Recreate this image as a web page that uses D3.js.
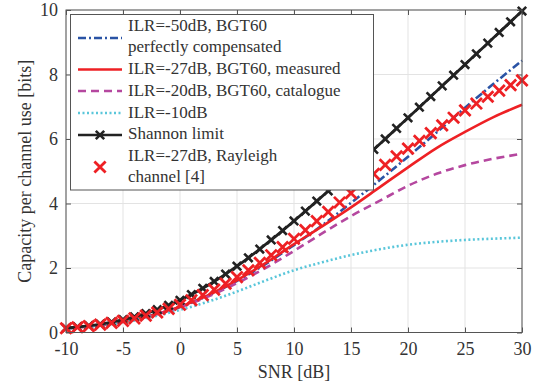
<!DOCTYPE html>
<html>
<head>
<meta charset="utf-8">
<script src="https://cdn.jsdelivr.net/npm/d3@7"></script>
<style>
  html, body { margin: 0; padding: 0; background: #fff; }
  svg { display: block; }
  text { font-family: "Liberation Serif", "DejaVu Serif", serif; fill: #333; }
</style>
</head>
<body>
<svg id="chart" width="536" height="385"></svg>
<script>
// ---- data ----
const snrLine = [-10, -7.5, -5, -2.5, 0, 2.5, 5, 7.5, 10, 12.5, 15, 17.5, 20, 22.5, 25, 27.5, 30];
const ilr50 = [0.13, 0.21, 0.34, 0.53, 0.79, 1.15, 1.60, 2.12, 2.71, 3.33, 4.02, 4.72, 5.45, 6.20, 6.97, 7.71, 8.43];
const ilr27 = [0.13, 0.21, 0.34, 0.53, 0.80, 1.16, 1.62, 2.15, 2.74, 3.30, 3.88, 4.50, 5.12, 5.72, 6.22, 6.68, 7.06];
const ilr20 = [0.13, 0.21, 0.33, 0.52, 0.78, 1.12, 1.53, 2.00, 2.53, 3.08, 3.61, 4.08, 4.55, 4.92, 5.19, 5.39, 5.54];
const ilr10 = [0.12, 0.20, 0.31, 0.48, 0.70, 0.96, 1.27, 1.61, 1.93, 2.18, 2.40, 2.58, 2.72, 2.81, 2.87, 2.91, 2.94];

const snrMarks = [-10,-9,-8,-7,-6,-5,-4,-3,-2,-1,0,1,2,3,4,5,6,7,8,9,10,11,12,13,14,15,16,17,18,19,20,21,22,23,24,25,26,27,28,29,30];
const shannon = [0.138,0.171,0.212,0.263,0.323,0.396,0.484,0.586,0.706,0.844,1.000,1.176,1.370,1.583,1.812,2.057,2.317,2.588,2.870,3.161,3.459,3.764,4.075,4.389,4.707,5.028,5.351,5.676,6.002,6.330,6.658,6.987,7.317,7.648,7.978,8.309,8.641,8.972,9.304,9.635,9.967];
const rayleigh = [0.132,0.163,0.200,0.245,0.299,0.362,0.436,0.522,0.620,0.732,0.860,1.001,1.159,1.329,1.515,1.717,1.930,2.157,2.396,2.646,2.906,3.176,3.454,3.740,4.032,4.320,4.620,4.920,5.200,5.460,5.700,5.940,6.180,6.420,6.660,6.890,7.100,7.310,7.500,7.670,7.820];

const xTicks = [-10, -5, 0, 5, 10, 15, 20, 25, 30];
const yTicks = [0, 2, 4, 6, 8, 10];

const legendLabels = [
  ["ILR=-50dB, BGT60", "perfectly compensated"],
  ["ILR=-27dB, BGT60, measured"],
  ["ILR=-20dB, BGT60, catalogue"],
  ["ILR=-10dB"],
  ["Shannon limit"],
  ["ILR=-27dB, Rayleigh", "channel [4]"]
];
const colors = { blue: "#2a53a5", red: "#ee2024", purple: "#b5479f", cyan: "#59c6da", black: "#222222" };

// ---- layout ----
const svg = d3.select("#chart");
const W = 536, H = 385;
const m = { left: 66, right: 14, top: 10, bottom: 52.5 };
const x = d3.scaleLinear().domain([-10, 30]).range([m.left, W - m.right]);
const y = d3.scaleLinear().domain([0, 10]).range([H - m.bottom, m.top]);

// grid
const g = svg.append("g");
g.selectAll(".vg").data(xTicks).join("line")
  .attr("x1", d => x(d)).attr("x2", d => x(d)).attr("y1", y(0)).attr("y2", y(10))
  .attr("stroke", "#e3e3e3").attr("stroke-width", 1);
g.selectAll(".hg").data(yTicks).join("line")
  .attr("y1", d => y(d)).attr("y2", d => y(d)).attr("x1", x(-10)).attr("x2", x(30))
  .attr("stroke", "#e3e3e3").attr("stroke-width", 1);

// axes
const fmt = d => String(d);
const axB = d3.axisBottom(x).tickValues(xTicks).tickFormat(fmt).tickSizeInner(-5).tickSizeOuter(0).tickPadding(10);
const axL = d3.axisLeft(y).tickValues(yTicks).tickFormat(fmt).tickSizeInner(-5).tickSizeOuter(0).tickPadding(8);
const axT = d3.axisTop(x).tickValues(xTicks).tickSizeInner(-5).tickSizeOuter(0).tickFormat("");
const axR = d3.axisRight(y).tickValues(yTicks).tickSizeInner(-5).tickSizeOuter(0).tickFormat("");
function styleAxis(sel) {
  sel.select(".domain").remove();
  sel.selectAll(".tick line").attr("stroke", "#555").attr("stroke-width", 1);
  sel.selectAll(".tick text").attr("font-size", 18).attr("font-family", "Liberation Serif, serif").attr("fill", "#333");
}
svg.append("g").attr("transform", `translate(0,${y(0)})`).call(axB).call(styleAxis);
svg.append("g").attr("transform", `translate(${x(-10)},0)`).call(axL).call(styleAxis);
svg.append("g").attr("transform", `translate(0,${y(10)})`).call(axT).call(styleAxis);
svg.append("g").attr("transform", `translate(${x(30)},0)`).call(axR).call(styleAxis);

// series lines
const line = d3.line().x(d => x(d[0])).y(d => y(d[1])).curve(d3.curveMonotoneX);
const plot = svg.append("g");
function drawLine(vals, xs, color, dash, w) {
  plot.append("path").datum(xs.map((v, i) => [v, vals[i]]))
    .attr("d", line).attr("fill", "none").attr("stroke", color).attr("stroke-width", w || 2.6)
    .attr("stroke-dasharray", dash || null);
}
drawLine(ilr50, snrLine, colors.blue, "8,3,2,3");
drawLine(ilr27, snrLine, colors.red, null);
drawLine(ilr20, snrLine, colors.purple, "8,5");
drawLine(ilr10, snrLine, colors.cyan, "2,2.5");
drawLine(shannon, snrMarks, colors.black, null, 2.8);

function cross(sel, cx, cy, r, color, w) {
  sel.append("path").attr("d", `M${cx - r},${cy - r}L${cx + r},${cy + r}M${cx - r},${cy + r}L${cx + r},${cy - r}`)
    .attr("stroke", color).attr("stroke-width", w).attr("fill", "none");
}
snrMarks.forEach((s, i) => cross(plot, x(s), y(shannon[i]), 4.2, colors.black, 2.6));
snrMarks.forEach((s, i) => cross(plot, x(s), y(rayleigh[i]), 5.6, colors.red, 2.8));

// frame
svg.append("rect").attr("x", x(-10)).attr("y", y(10)).attr("width", x(30) - x(-10)).attr("height", y(0) - y(10))
  .attr("fill", "none").attr("stroke", "#555").attr("stroke-width", 1);

// axis titles
svg.append("text").attr("x", (x(-10) + x(30)) / 2).attr("y", 378).attr("text-anchor", "middle")
  .attr("font-size", 18).text("SNR [dB]");
svg.append("text").attr("transform", `translate(31,${(y(0) + y(10)) / 2}) rotate(-90)`).attr("text-anchor", "middle")
  .attr("font-size", 18).text("Capacity per channel use [bits]");

// legend
const lg = svg.append("g");
lg.append("rect").attr("x", 70.5).attr("y", 14.5).attr("width", 303).attr("height", 175.5)
  .attr("fill", "#fff").attr("stroke", "#555").attr("stroke-width", 1);
const rowY = [[31, 52], [74], [95.5], [117.5], [139], [160.5, 181.5]];
const sampleY = [38, 69.5, 91, 113, 135, 167];
const styles = [
  { c: colors.blue, d: "8,3,2,3" }, { c: colors.red, d: null }, { c: colors.purple, d: "8,5" },
  { c: colors.cyan, d: "2,2.5" }, { c: colors.black, d: null, mk: "k" }, { c: colors.red, mk: "x" }
];
legendLabels.forEach((lines, i) => {
  const st = styles[i];
  if (st.mk !== "x") {
    lg.append("line").attr("x1", 78).attr("x2", 122).attr("y1", sampleY[i]).attr("y2", sampleY[i])
      .attr("stroke", st.c).attr("stroke-width", 2.6).attr("stroke-dasharray", st.d || null);
  }
  if (st.mk === "k") cross(lg, 100, sampleY[i], 4.2, st.c, 2.6);
  if (st.mk === "x") cross(lg, 100, sampleY[i], 5.6, st.c, 2.8);
  lines.forEach((t, j) => {
    lg.append("text").attr("x", 128).attr("y", rowY[i][j]).attr("font-size", 17).text(t);
  });
});
</script>
</body>
</html>
